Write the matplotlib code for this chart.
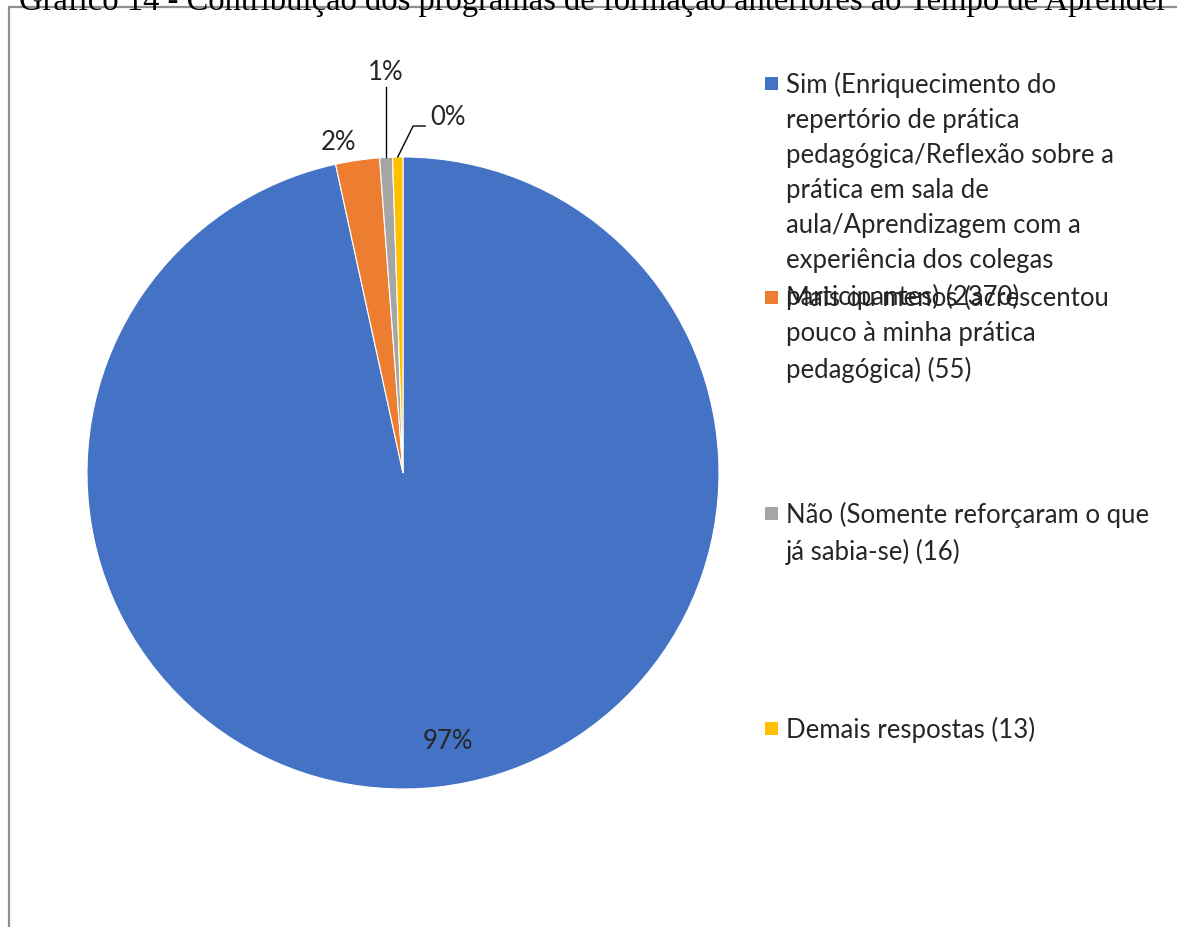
import numpy as np
import matplotlib.pyplot as plt
from matplotlib.patches import Rectangle

# Respostas sobre a contribuição dos programas de formação anteriores
categorias = [
    "Sim (Enriquecimento do\nrepertório de prática\npedagógica/Reflexão sobre a\nprática em sala de\naula/Aprendizagem com a\nexperiência dos colegas\nparticipantes) (2370)",
    "Mais ou menos (acrescentou\npouco à minha prática\npedagógica) (55)",
    "Não (Somente reforçaram o que\njá sabia-se) (16)",
    "Demais respostas (13)",
]
valores = [2370, 55, 16, 13]
rotulos = ["97%", "2%", "1%", "0%"]
cores = ["#4472C4", "#ED7D31", "#A5A5A5", "#FFC000"]
titulo = "Gráfico 14 - Contribuição dos programas de formação anteriores ao Tempo de Aprender"

W, H = 1177, 928
fig = plt.figure(figsize=(W / 100, H / 100), dpi=100)
fig.patch.set_facecolor("white")

# moldura do gráfico (sai pela direita e por baixo)
fig.patches.append(Rectangle((8.5 / W, -0.1), 1.2, (H + 100 - 15) / H,
                             transform=fig.transFigure, fill=False,
                             edgecolor="#8f8f8f", linewidth=1.6))

# título cortado no topo
fig.text(593 / W, 1 - 10 / H, titulo, ha="center", va="baseline",
         family="Liberation Serif", fontsize=23.5, color="black")

# pizza: centro (403, 474) px, raio 316 px
cx, cy, r = 403, 474, 316
ax = fig.add_axes([(cx - r) / W, (H - cy - r) / H, 2 * r / W, 2 * r / H])
fatias, _ = ax.pie(valores, colors=cores, startangle=90, counterclock=False,
                   wedgeprops=dict(edgecolor="white", linewidth=0.8))
ax.set_xlim(-1, 1)
ax.set_ylim(-1, 1)
ax.set_aspect("equal")

fonte = dict(family="Lato", fontsize=18.5, color="#262626")
meios = [np.deg2rad((f.theta1 + f.theta2) / 2) for f in fatias]

# 97% dentro da fatia
a = meios[0]
ax.text(0.85 * np.cos(a) + 0.05, 0.85 * np.sin(a), rotulos[0], ha="center", va="center", **fonte)
# 2% fora
a = meios[1]
ax.text(1.08 * np.cos(a) - 0.05, 1.06 * np.sin(a), rotulos[1], ha="center", va="center", **fonte)
# 1% com linha de chamada vertical
a = meios[2]
x0, y0 = np.cos(a), np.sin(a)
ax.plot([x0, x0], [y0, 1.22], color="black", lw=1, clip_on=False)
ax.text(x0, 1.27, rotulos[2], ha="center", va="center", **fonte)
# 0% com linha de chamada inclinada
a = meios[3]
x0, y0 = np.cos(a), np.sin(a)
ax.plot([x0, 0.032, 0.07], [y0, 1.098, 1.098], color="black", lw=1, clip_on=False)
ax.text(0.085, 1.127, rotulos[3], ha="left", va="center", **fonte)

# legenda à direita
ys = [84, 298, 514, 729]
for cat, cor, y in zip(categorias, cores, ys):
    fig.patches.append(Rectangle((765 / W, 1 - (y + 7) / H), 13 / W, 13 / H,
                                 transform=fig.transFigure, facecolor=cor, edgecolor="none"))
    fig.text(786 / W, 1 - (y - 12) / H, cat, ha="left", va="top",
             linespacing=1.5, **fonte)

fig.savefig("out.png", dpi=100)
